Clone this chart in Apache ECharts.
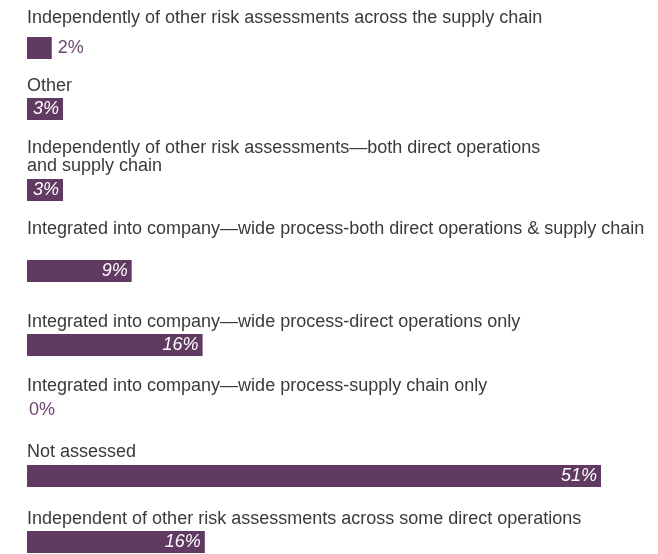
<!DOCTYPE html>
<html>
<head>
<meta charset="utf-8">
<script src="https://cdn.jsdelivr.net/npm/echarts@6/dist/echarts.min.js"></script>
<style>
  html, body { margin: 0; padding: 0; background: #fff; }
  #chart { width: 658px; height: 554px; }
</style>
</head>
<body>
<div id="chart"></div>
<script>
// data (bar lengths, labels show rounded %)
var categories = [
  'Independently of other risk assessments across the supply chain',
  'Other',
  'Independently of other risk assessments\u2014both direct operations\nand supply chain',
  'Integrated into company\u2014wide process-both direct operations & supply chain',
  'Integrated into company\u2014wide process-direct operations only',
  'Integrated into company\u2014wide process-supply chain only',
  'Not assessed',
  'Independent of other risk assessments across some direct operations'
]
var values = [2.2, 3.2, 3.2, 9.3, 15.6, 0, 51, 15.8]

// layout (px): top of each bar row, top of each caption
var barTops = [37, 98, 179, 260, 334, 399, 465, 531]
var labelTops = [9, 77, 139, 220, 313, 377, 443, 510]

var barColor = '#613a62'
var maxVal = Math.max.apply(null, values)

var chart = echarts.init(document.getElementById('chart'))

var grids = []
var xAxes = []
var yAxes = []
var series = []
var titles = []

categories.forEach(function (name, i) {
  grids.push({ left: 27, width: 574, top: barTops[i], height: 22 })
  xAxes.push({ type: 'value', gridIndex: i, min: 0, max: maxVal, show: false })
  yAxes.push({ type: 'category', gridIndex: i, data: [name], show: false })
  var small = values[i] < 2.5
  series.push({
    type: 'bar',
    xAxisIndex: i,
    yAxisIndex: i,
    barWidth: 22,
    silent: true,
    itemStyle: { color: barColor },
    label: {
      show: true,
      position: small ? 'right' : 'insideRight',
      distance: small ? (values[i] === 0 ? 2 : 6) : 4,
      formatter: function (p) { return Math.round(p.value) + '%' },
      fontFamily: 'Liberation Sans',
      fontSize: 18,
      fontStyle: small ? 'normal' : 'italic',
      color: small ? '#6e4571' : '#ffffff'
    },
    data: [values[i]]
  })
  titles.push({
    text: name,
    left: 27,
    top: labelTops[i],
    padding: 0,
    textStyle: {
      fontFamily: 'Liberation Sans',
      fontSize: 18,
      fontWeight: 'normal',
      color: '#3a3a3a',
      lineHeight: 18
    }
  })
})

chart.setOption({
  animation: false,
  title: titles,
  grid: grids,
  xAxis: xAxes,
  yAxis: yAxes,
  series: series
})
</script>
</body>
</html>
